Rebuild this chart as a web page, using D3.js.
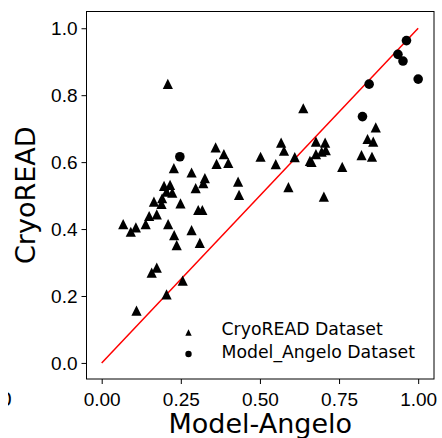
<!DOCTYPE html>
<html>
<head>
<meta charset="utf-8">
<script src="https://cdn.jsdelivr.net/npm/d3@7"></script>
<style>
    body { margin: 0; background: #fff; }
    svg { display: block; font-family: "DejaVu Sans", sans-serif; }
</style>
</head>
<body>
<div id="chart"></div>
<script>

// CryoREAD dataset points (x = Model-Angelo, y = CryoREAD)
let cryoX = [0.228, 0.284, 0.326, 0.321, 0.297, 0.197, 0.216, 0.205, 0.223, 0.191,
    0.165, 0.189, 0.249, 0.305, 0.318, 0.150, 0.174, 0.068, 0.092, 0.108,
    0.139, 0.210, 0.284, 0.229, 0.237, 0.310, 0.158, 0.174, 0.256, 0.205,
    0.110, 0.209, 0.637, 0.360, 0.386, 0.363, 0.400, 0.502, 0.567, 0.576,
    0.550, 0.610, 0.677, 0.706, 0.658, 0.663, 0.677, 0.695, 0.708, 0.431,
    0.434, 0.590, 0.702, 0.866, 0.840, 0.858, 0.821, 0.854, 0.760]
let cryoY = [0.582, 0.569, 0.552, 0.537, 0.522, 0.529, 0.532, 0.512, 0.509, 0.492,
    0.482, 0.475, 0.477, 0.457, 0.457, 0.439, 0.444, 0.415, 0.392, 0.405,
    0.415, 0.415, 0.397, 0.382, 0.352, 0.359, 0.270, 0.285, 0.246, 0.205,
    0.156, 0.834, 0.761, 0.644, 0.624, 0.595, 0.598, 0.616, 0.658, 0.634,
    0.594, 0.615, 0.661, 0.658, 0.604, 0.601, 0.624, 0.631, 0.636, 0.542,
    0.502, 0.525, 0.497, 0.704, 0.669, 0.661, 0.621, 0.616, 0.586]

// Model_Angelo dataset points
let angeloX = [0.247, 0.963, 0.936, 0.952, 1.000, 0.845, 0.824]
let angeloY = [0.616, 0.963, 0.922, 0.902, 0.848, 0.833, 0.736]

let xTicks = [0, 0.25, 0.5, 0.75, 1.0]
let yTicks = [0, 0.2, 0.4, 0.6, 0.8, 1.0]
let legendLabels = ["CryoREAD Dataset", "Model_Angelo Dataset"]

let width = 442, height = 438;
let box = {left: 86.5, right: 434, top: 11.5, bottom: 379};

let svg = d3.select("#chart").append("svg")
    .attr("width", width)
    .attr("height", height);

// scales
let x = d3.scaleLinear().domain([-0.048, 1.05]).range([box.left, box.right]);
let y = d3.scaleLinear().domain([-0.048, 1.05]).range([box.bottom, box.top]);

// axes
let xAxis = d3.axisBottom(x).tickValues(xTicks).tickFormat(d3.format(".2f")).tickSize(5).tickPadding(4);
let yAxis = d3.axisLeft(y).tickValues(yTicks).tickFormat(d3.format(".1f")).tickSize(5).tickPadding(4);

let xg = svg.append("g")
    .attr("transform", `translate(0,${box.bottom})`)
    .call(xAxis);
let yg = svg.append("g")
    .attr("transform", `translate(${box.left},0)`)
    .call(yAxis);

[xg, yg].forEach(g => {
    g.select(".domain").remove();
    g.selectAll(".tick line").attr("stroke", "#000").attr("stroke-width", 1);
    g.selectAll(".tick text").attr("fill", "#000").style("font-size", "19px");
});
xg.selectAll(".tick text").attr("dy", "0.95em");

// frame
svg.append("rect")
    .attr("x", box.left)
    .attr("y", box.top)
    .attr("width", box.right - box.left)
    .attr("height", box.bottom - box.top)
    .attr("fill", "none")
    .attr("stroke", "#000")
    .attr("stroke-width", 1);

// y = x reference line
svg.append("line")
    .attr("x1", x(0)).attr("y1", y(0))
    .attr("x2", x(1)).attr("y2", y(1))
    .attr("stroke", "red")
    .attr("stroke-width", 1.5);

let tri = h => `M0,${-h}L${h},${h}L${-h},${h}Z`;

svg.append("g").selectAll("path")
    .data(cryoX.map((d, i) => [d, cryoY[i]]))
    .enter().append("path")
    .attr("d", tri(5.1))
    .attr("transform", d => `translate(${x(d[0])},${y(d[1])})`)
    .attr("fill", "#000");

svg.append("g").selectAll("circle")
    .data(angeloX.map((d, i) => [d, angeloY[i]]))
    .enter().append("circle")
    .attr("cx", d => x(d[0]))
    .attr("cy", d => y(d[1]))
    .attr("r", 4.8)
    .attr("fill", "#000");

// legend
let legend = svg.append("g");
legend.append("path")
    .attr("d", tri(3.2))
    .attr("transform", "translate(188.5,332.5)");
legend.append("circle")
    .attr("cx", 188.5).attr("cy", 354)
    .attr("r", 3.2);
legend.selectAll("text")
    .data(legendLabels)
    .enter().append("text")
    .attr("x", 221.5)
    .attr("y", (d, i) => 335 + i * 22.7)
    .style("font-size", "17.3px")
    .text(d => d);

// axis titles
svg.append("text")
    .attr("x", (box.left + box.right) / 2)
    .attr("y", 433)
    .attr("text-anchor", "middle")
    .style("font-size", "27px")
    .text("Model-Angelo");

svg.append("text")
    .attr("transform", `translate(35,${(box.top + box.bottom) / 2}) rotate(-90)`)
    .attr("text-anchor", "middle")
    .style("font-size", "27px")
    .text("CryoREAD");

// clipped stray tick glyph at the lower left edge
svg.append("clipPath").attr("id", "edgeclip")
    .append("rect").attr("x", 8).attr("y", 380).attr("width", 10).attr("height", 40);
svg.append("text")
    .attr("x", 0)
    .attr("y", 406)
    .attr("clip-path", "url(#edgeclip)")
    .style("font-size", "19px")
    .text("0");

</script>
</body>
</html>
